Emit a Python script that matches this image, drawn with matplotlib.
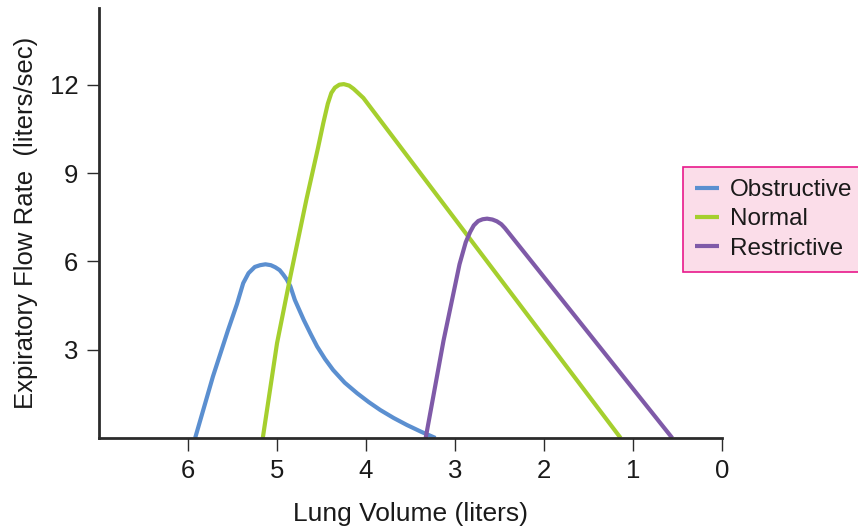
import matplotlib
matplotlib.use("Agg")
import matplotlib.pyplot as plt

plt.rcParams['font.family'] = ['Liberation Sans', 'DejaVu Sans']

# lung volume (liters) and expiratory flow (liters/sec)
obstr_vol = [5.92, 5.72, 5.55, 5.45, 5.38, 5.32, 5.25, 5.19, 5.13, 5.07, 5.02, 4.97, 4.93,
             4.89, 4.85, 4.80, 4.70, 4.62, 4.55, 4.46, 4.37, 4.24, 4.10, 3.97, 3.84, 3.69,
             3.54, 3.38, 3.22]
obstr_flow = [0.0, 2.09, 3.67, 4.55, 5.26, 5.60, 5.81, 5.87, 5.90, 5.87, 5.80, 5.70, 5.55,
              5.38, 5.15, 4.69, 4.01, 3.52, 3.11, 2.68, 2.31, 1.88, 1.52, 1.22, 0.95, 0.68,
              0.44, 0.21, 0.0]

normal_vol = [5.16, 5.00, 4.85, 4.67, 4.54, 4.48, 4.43, 4.39, 4.35, 4.30, 4.25,
              4.19, 4.14, 4.09, 4.03, 1.14]
normal_flow = [0.0, 3.22, 5.49, 8.10, 9.85, 10.7, 11.35, 11.72, 11.90, 12.00, 12.02,
               11.97, 11.86, 11.72, 11.55, 0.0]

restr_vol = [3.33, 3.13, 2.95, 2.88, 2.83, 2.79, 2.74, 2.69, 2.64, 2.58, 2.53, 2.48, 2.44, 0.56]
restr_flow = [0.0, 3.30, 5.90, 6.65, 7.00, 7.22, 7.37, 7.43, 7.45, 7.42, 7.36, 7.26, 7.13, 0.0]

x_ticks = [6, 5, 4, 3, 2, 1, 0]
y_ticks = [3, 6, 9, 12]

fig = plt.figure(figsize=(8.58, 5.30), dpi=100)
ax = fig.add_axes([0.1154, 0.1736, 0.7262, 0.811])

lw = 3.0
ax.plot(obstr_vol, obstr_flow, color='#5b8fd0', lw=lw, label='Obstructive',
        solid_joinstyle='round', solid_capstyle='butt')
ax.plot(normal_vol, normal_flow, color='#a5cf2e', lw=lw, label='Normal',
        solid_joinstyle='round', solid_capstyle='butt')
ax.plot(restr_vol, restr_flow, color='#7f5aa8', lw=lw, label='Restrictive',
        solid_joinstyle='round', solid_capstyle='butt')

ax.set_xlim(7, 0)
ax.set_ylim(0, 14.6)
ax.set_xticks(x_ticks)
ax.set_yticks(y_ticks)

for side in ['top', 'right']:
    ax.spines[side].set_visible(False)
for side in ['left', 'bottom']:
    ax.spines[side].set_color('#2b2b2b')
    ax.spines[side].set_linewidth(2.0)

ax.tick_params(axis='both', direction='out', length=9, width=1.0,
               color='#2b2b2b', labelsize=18.5, labelcolor='#1a1a1a', pad=6)

ax.set_xlabel('Lung Volume (liters)', fontsize=19, color='#1a1a1a', labelpad=14)
ax.set_ylabel('Expiratory Flow Rate  (liters/sec)', fontsize=18.5, color='#1a1a1a', labelpad=8)

leg = fig.legend(loc='upper left', bbox_to_anchor=(0.796, 0.685), fontsize=17.5,
                 frameon=True, fancybox=False, framealpha=1, facecolor='#fbdde9',
                 edgecolor='#e8198b', handlelength=1.0, handletextpad=0.45,
                 labelspacing=0.3, borderpad=0.5, borderaxespad=0)
leg.get_frame().set_linewidth(1.2)
for t in leg.get_texts():
    t.set_color('#1a1a1a')

fig.savefig('out.png', dpi=100)
